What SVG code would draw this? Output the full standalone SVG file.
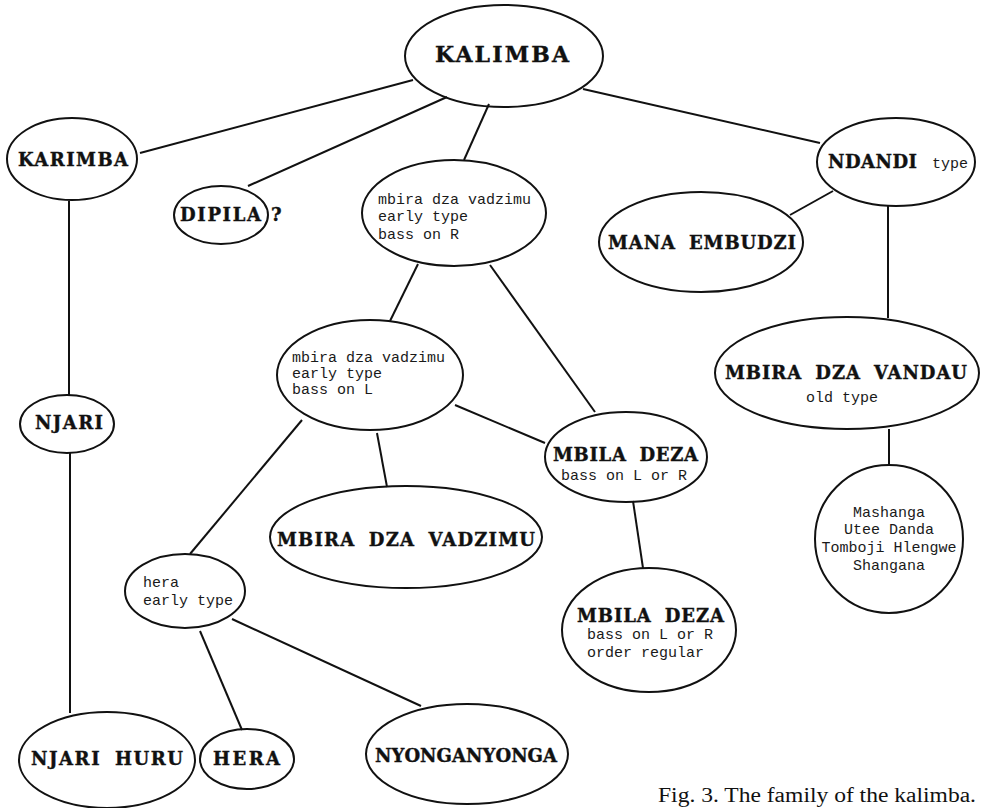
<svg xmlns="http://www.w3.org/2000/svg" width="981" height="808" viewBox="0 0 981 808">
<style>
.n{fill:none;stroke:#111;stroke-width:2}
.c line{stroke:#111;stroke-width:2}
.b{font-family:"DejaVu Serif","Liberation Serif",serif;font-weight:bold;font-size:18px;fill:#111;stroke:#111;stroke-width:0.4;word-spacing:6px}
.m{font-family:"Liberation Mono","Courier New",monospace;font-size:15px;fill:#1a1a1a}
.m14{font-size:14px}
.big{font-size:22px}
.cap{font-family:"Liberation Serif","Times New Roman",serif;font-size:20px;fill:#111}
</style>
<rect width="981" height="808" fill="#fff"/>
<g class="c" id="connectors">
<line x1="413" y1="80" x2="140" y2="153"/>
<line x1="447" y1="97" x2="248" y2="186"/>
<line x1="489" y1="104" x2="464" y2="160"/>
<line x1="583" y1="89" x2="820" y2="143"/>
<line x1="69" y1="201" x2="69" y2="395"/>
<line x1="833" y1="191" x2="790" y2="215"/>
<line x1="888" y1="206" x2="888" y2="318"/>
<line x1="889" y1="429" x2="889" y2="465"/>
<line x1="418" y1="264" x2="390" y2="321"/>
<line x1="490" y1="265" x2="595" y2="412"/>
<line x1="302" y1="420" x2="190" y2="554"/>
<line x1="377" y1="433" x2="387" y2="487"/>
<line x1="455" y1="405" x2="545" y2="443"/>
<line x1="633" y1="501" x2="643" y2="568"/>
<line x1="70" y1="453" x2="70" y2="713"/>
<line x1="200" y1="631" x2="242" y2="730"/>
<line x1="232" y1="619" x2="421" y2="706"/>
</g>
<g id="kalimba"><ellipse class="n" cx="504" cy="56" rx="99" ry="51"/><text class="b big" x="435" y="62" textLength="134" lengthAdjust="spacing">KALIMBA</text></g>
<g id="karimba"><ellipse class="n" cx="72" cy="159" rx="65" ry="41"/><text class="b" x="18" y="166" textLength="110" lengthAdjust="spacing">KARIMBA</text></g>
<g id="dipila"><ellipse class="n" cx="221" cy="215" rx="47" ry="29"/><text class="b" x="180" y="221" textLength="81" lengthAdjust="spacing">DIPILA</text><text class="b" x="271" y="221">?</text></g>
<g id="mbira-early-r"><ellipse class="n" cx="454" cy="213" rx="92" ry="53"/><text class="m" x="378" y="204">mbira dza vadzimu</text><text class="m" x="378" y="221">early type</text><text class="m" x="378" y="239">bass on R</text></g>
<g id="ndandi"><ellipse class="n" cx="896" cy="162" rx="79" ry="44"/><text class="b" x="828" y="168" textLength="89" lengthAdjust="spacing">NDANDI</text><text class="m" x="932" y="168">type</text></g>
<g id="mana-embudzi"><ellipse class="n" cx="701" cy="242" rx="102" ry="50"/><text class="b" x="608" y="249" textLength="188" lengthAdjust="spacing">MANA EMBUDZI</text></g>
<g id="mbira-vandau"><ellipse class="n" cx="847" cy="373" rx="132" ry="56"/><text class="b" x="725" y="379" textLength="242" lengthAdjust="spacing">MBIRA DZA VANDAU</text><text class="m" x="842" y="402" text-anchor="middle">old type</text></g>
<g id="mashanga"><ellipse class="n" cx="889" cy="539" rx="74" ry="74"/><text class="m" x="889" y="517" text-anchor="middle">Mashanga</text><text class="m" x="889" y="534" text-anchor="middle">Utee Danda</text><text class="m" x="889" y="552" text-anchor="middle">Tomboji Hlengwe</text><text class="m" x="889" y="570" text-anchor="middle">Shangana</text></g>
<g id="mbira-early-l"><ellipse class="n" cx="370" cy="375" rx="93" ry="55"/><text class="m m14" x="292" y="362" textLength="153" lengthAdjust="spacingAndGlyphs">mbira dza vadzimu</text><text class="m m14" x="292" y="378" textLength="90" lengthAdjust="spacingAndGlyphs">early type</text><text class="m m14" x="292" y="394" textLength="81" lengthAdjust="spacingAndGlyphs">bass on L</text></g>
<g id="mbila-deza-1"><ellipse class="n" cx="626" cy="457" rx="81" ry="45"/><text class="b" x="553" y="461" textLength="145" lengthAdjust="spacing">MBILA DEZA</text><text class="m" x="561" y="480">bass on L or R</text></g>
<g id="mbira-vadzimu"><ellipse class="n" cx="406" cy="537" rx="136" ry="51"/><text class="b" x="277" y="546" textLength="258" lengthAdjust="spacing">MBIRA DZA VADZIMU</text></g>
<g id="mbila-deza-2"><ellipse class="n" cx="649" cy="630" rx="87" ry="62"/><text class="b" x="577" y="622" textLength="147" lengthAdjust="spacing">MBILA DEZA</text><text class="m" x="587" y="639">bass on L or R</text><text class="m" x="587" y="657">order regular</text></g>
<g id="hera-early"><ellipse class="n" cx="185" cy="591" rx="60" ry="37"/><text class="m" x="143" y="587">hera</text><text class="m" x="143" y="605">early type</text></g>
<g id="njari"><ellipse class="n" cx="67" cy="424" rx="47" ry="29"/><text class="b" x="35" y="429" textLength="68" lengthAdjust="spacing">NJARI</text></g>
<g id="njari-huru"><ellipse class="n" cx="107" cy="760" rx="88" ry="48"/><text class="b" x="31" y="765" textLength="152" lengthAdjust="spacing">NJARI HURU</text></g>
<g id="hera"><ellipse class="n" cx="247" cy="759" rx="47" ry="30"/><text class="b" x="213" y="765" textLength="67" lengthAdjust="spacing">HERA</text></g>
<g id="nyonganyonga"><ellipse class="n" cx="467" cy="754" rx="101" ry="50"/><text class="b" x="375" y="762" textLength="182" lengthAdjust="spacing">NYONGANYONGA</text></g>
<text class="cap" x="658" y="802" textLength="318" lengthAdjust="spacingAndGlyphs">Fig. 3. The family of the kalimba.</text>
</svg>
